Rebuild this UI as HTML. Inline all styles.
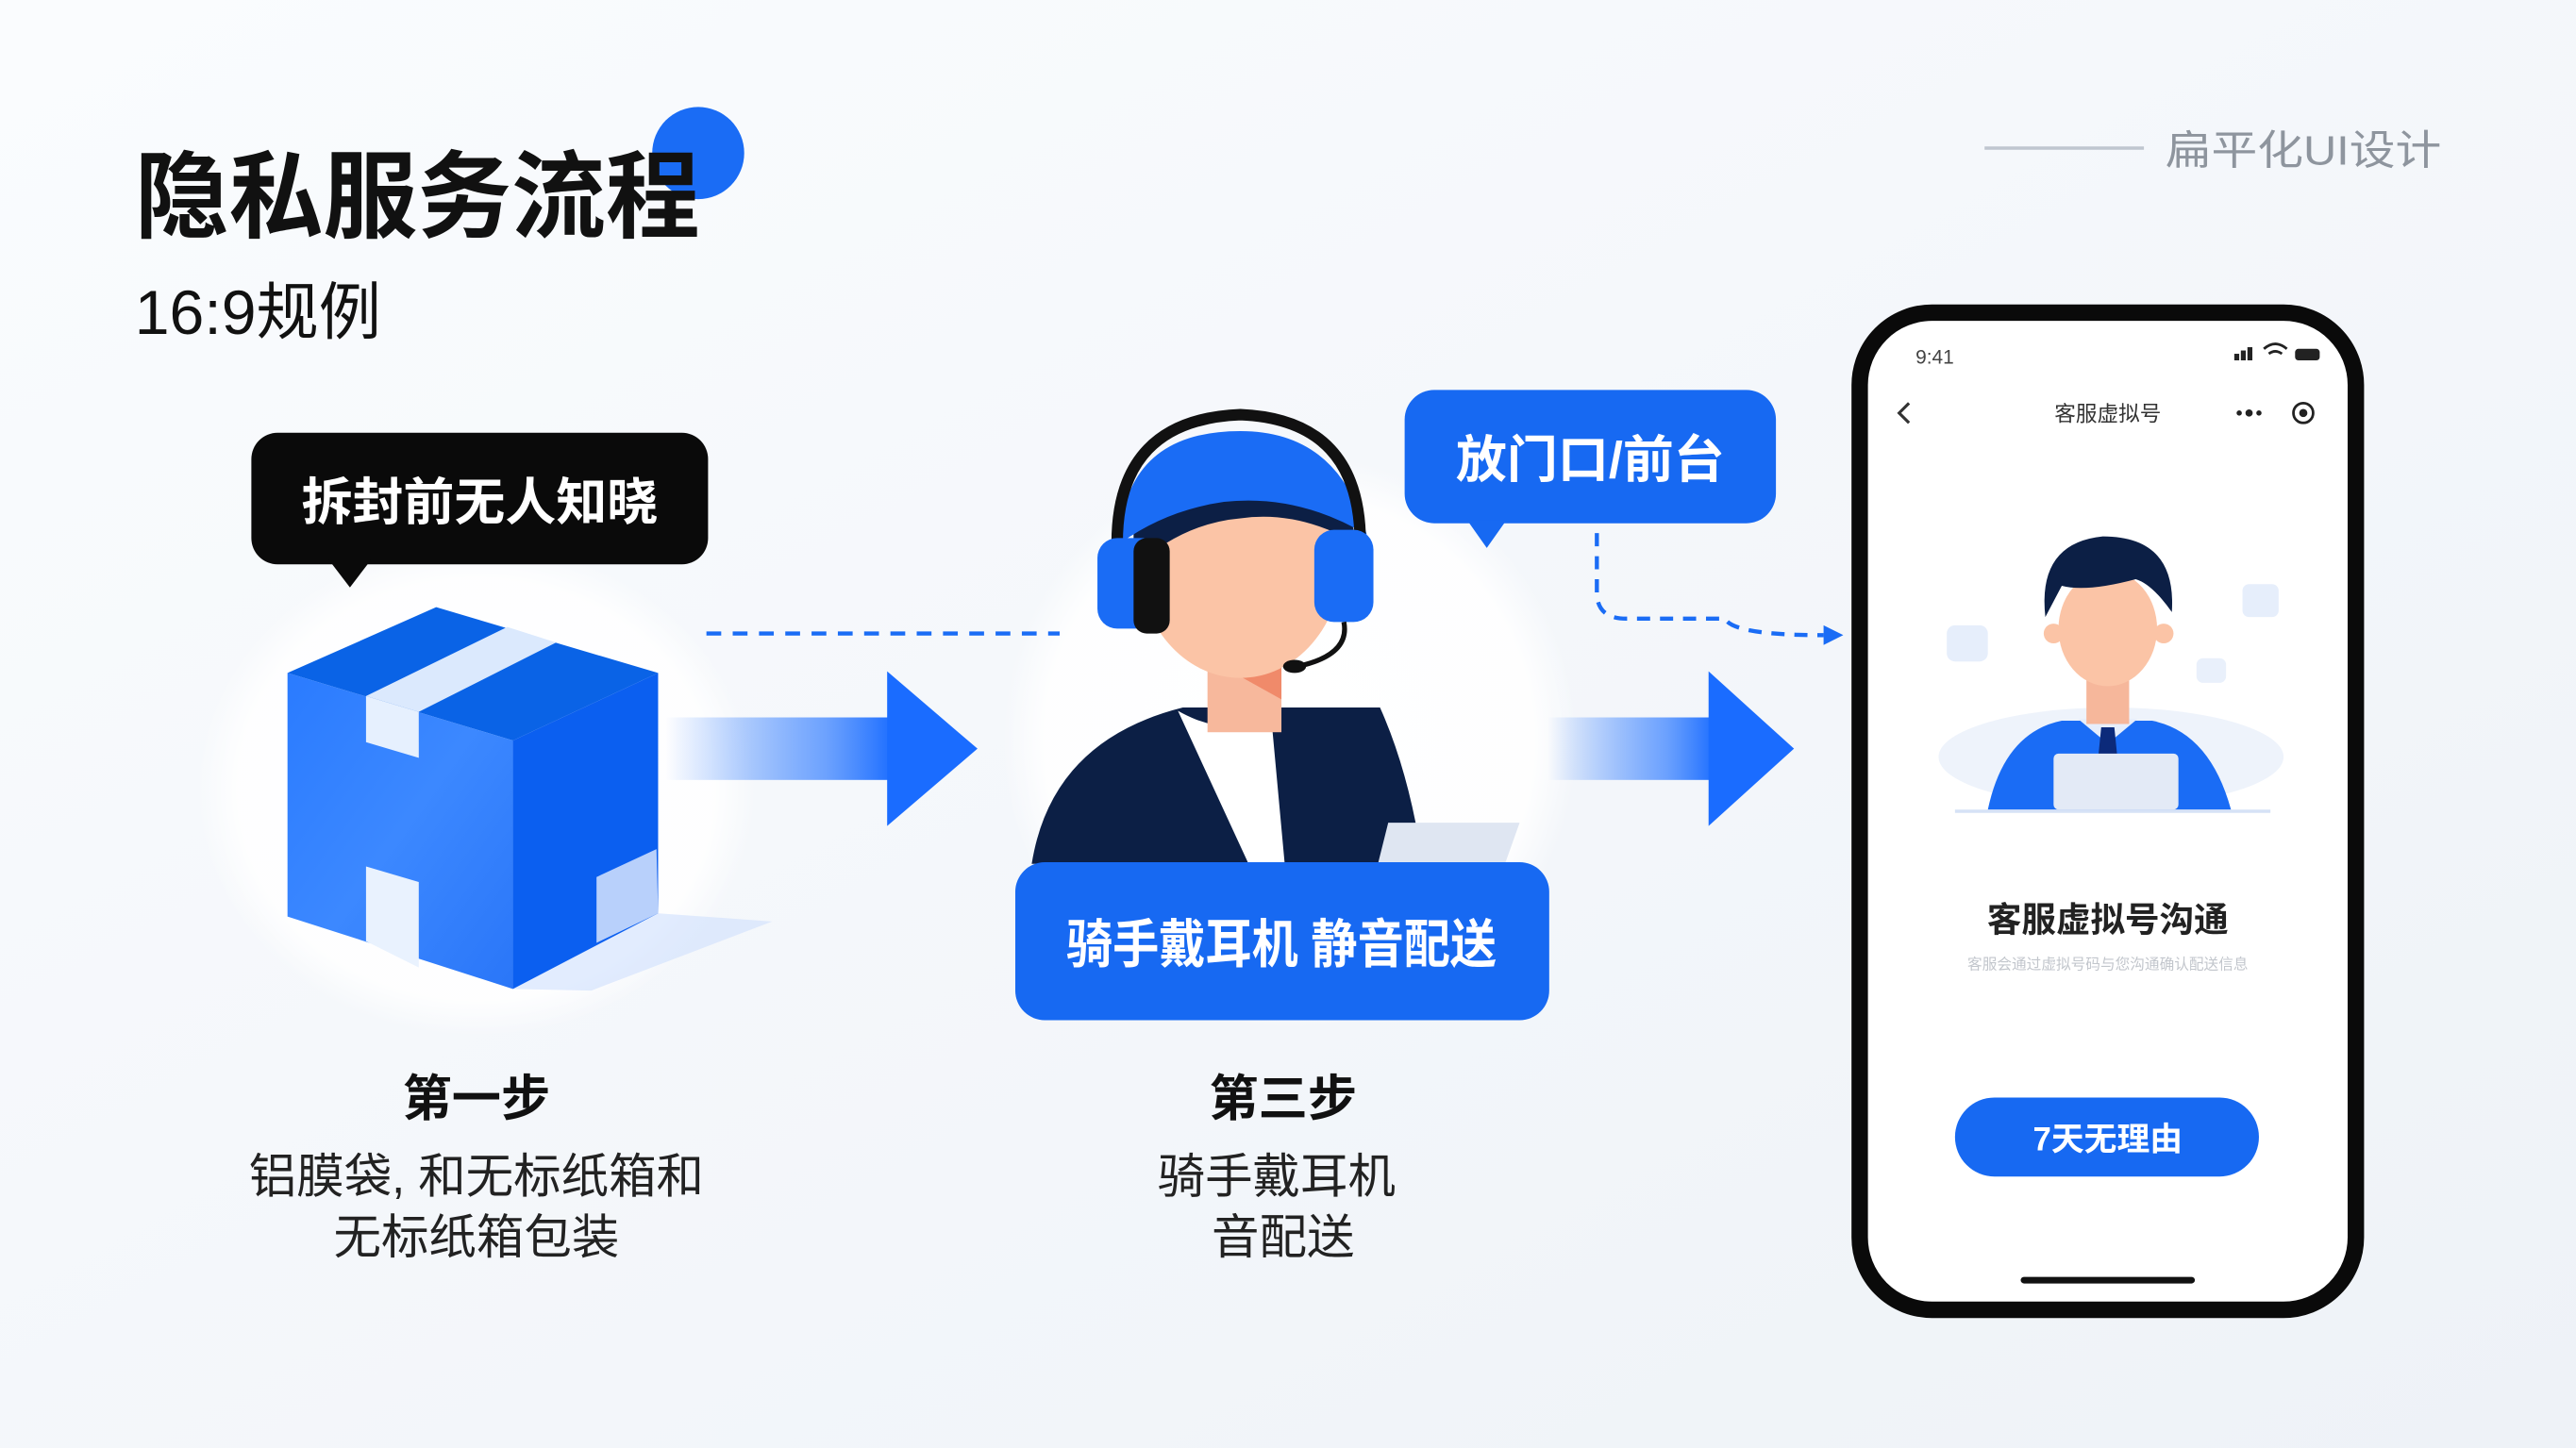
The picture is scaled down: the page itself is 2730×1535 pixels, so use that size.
<!DOCTYPE html>
<html><head><meta charset="utf-8"><style>
html,body{margin:0;padding:0;background:#f4f7fb;}
svg{display:block;}
text{font-family:"Liberation Sans","Noto Sans CJK SC",sans-serif;}
</style></head><body>
<svg width="2730" height="1535" viewBox="0 0 1568 880" preserveAspectRatio="none" xmlns="http://www.w3.org/2000/svg">
<defs>
<linearGradient id="bg" x1="0" y1="0" x2="1" y2="1"><stop offset="0" stop-color="#fafcfe"/><stop offset="0.6" stop-color="#f3f6fa"/><stop offset="1" stop-color="#eef2f7"/></linearGradient>
<linearGradient id="arr" x1="0" x2="1"><stop offset="0" stop-color="#2f7bff" stop-opacity="0"/><stop offset="0.7" stop-color="#4a8cff" stop-opacity="0.8"/><stop offset="1" stop-color="#1a6cff"/></linearGradient>
<radialGradient id="glow" cx="0.5" cy="0.5" r="0.5"><stop offset="0" stop-color="#ffffff"/><stop offset="0.85" stop-color="#ffffff" stop-opacity="0.9"/><stop offset="1" stop-color="#ffffff" stop-opacity="0"/></radialGradient>
<linearGradient id="front" x1="0" y1="0" x2="1" y2="1"><stop offset="0" stop-color="#2a7bff"/><stop offset="0.5" stop-color="#3c88ff"/><stop offset="1" stop-color="#2a76f8"/></linearGradient>
</defs>
<rect width="1568" height="880" fill="url(#bg)"/>
<ellipse cx="290" cy="480" rx="170" ry="150" fill="url(#glow)"/>
<ellipse cx="785" cy="450" rx="175" ry="175" fill="url(#glow)"/>

<!-- Title -->
<circle cx="425" cy="93" r="28" fill="#1a6cf5"/>
<text x="82" y="140" font-size="58" font-weight="bold" fill="#111" textLength="344" lengthAdjust="spacingAndGlyphs">隐私服务流程</text>
<text x="82" y="203" font-size="38" fill="#111" textLength="150" lengthAdjust="spacingAndGlyphs">16:9规例</text>
<line x1="1208" y1="90" x2="1305" y2="90" stroke="#bfc6cf" stroke-width="2"/>
<text x="1318" y="100" font-size="25" fill="#8e959e" textLength="168" lengthAdjust="spacingAndGlyphs">扁平化UI设计</text>

<!-- black bubble -->
<rect x="153" y="263" width="278" height="80" rx="16" fill="#0a0a0a"/>
<polygon points="200,340 226,340 213,357" fill="#0a0a0a"/>
<text x="292" y="316" font-size="31" font-weight="bold" fill="#fff" text-anchor="middle">拆封前无人知晓</text>

<!-- cube -->
<polygon points="312,601 400,555 470,560 360,602" fill="#cfe0fd" opacity="0.6"/>
<polygon points="175,409 265.5,369 400.6,409 312.2,450" fill="#0a63e6"/>
<polygon points="175,409 312.2,450 312.2,601 175,557" fill="url(#front)"/>
<polygon points="312.2,450 400.6,409 400.6,555 312.2,601" fill="#0b5ff0"/>
<polygon points="308.8,381 338.5,390.5 254.9,432.6 222.8,423" fill="#dbe9fd"/>
<polygon points="222.8,423 254.9,432.6 254.9,460.6 222.8,451" fill="#e6f0fe"/>
<polygon points="222.8,526.6 254.9,536 254.9,588 222.8,572" fill="#e9f2fe"/>
<polygon points="363.1,533 399.6,516 400.6,555 363.1,573" fill="#b8d0fb"/>

<!-- dashed line 1 -->
<line x1="430" y1="385" x2="645" y2="385" stroke="#1a6cf5" stroke-width="2.5" stroke-dasharray="9,7"/>

<!-- arrows -->
<rect x="405" y="436" width="140" height="38" fill="url(#arr)"/>
<polygon points="540,408 595,455 540,502" fill="#1a6cff"/>
<rect x="942" y="436" width="103" height="38" fill="url(#arr)"/>
<polygon points="1040,408 1092,455 1040,502" fill="#1a6cff"/>

<!-- rider -->
<path d="M628,525 Q640,450 720,430 L840,430 Q858,470 866,525 Z" fill="#0c1f45"/>
<path d="M717,432 Q745,448 774,438 L782,525 L760,525 Z" fill="#fff"/>
<rect x="735" y="390" width="45" height="55" fill="#f7b89c"/>
<path d="M735,400 L780,425 L780,395 Z" fill="#f08a6a"/>
<ellipse cx="755" cy="340" rx="62" ry="72" fill="#fbc4a6"/>
<path d="M690,325 Q700,270 760,268 Q820,270 825,330 Q790,310 755,315 Q720,318 690,345 Z" fill="#0c1f45"/>
<path d="M682,320 Q690,262 755,262 Q815,262 832,325 Q790,300 745,305 Q710,310 682,330 Z" fill="#1a6cf5"/>
<path d="M680,330 Q680,255 755,252 Q828,255 828,330" fill="none" stroke="#111" stroke-width="7"/>
<rect x="668" y="327" width="40" height="55" rx="12" fill="#1a6cf5"/>
<rect x="690" y="327" width="22" height="58" rx="8" fill="#111"/>
<rect x="800" y="322" width="36" height="56" rx="12" fill="#1a6cf5"/>
<path d="M818,378 Q822,398 790,405" fill="none" stroke="#111" stroke-width="3"/>
<ellipse cx="788" cy="405" rx="7" ry="4" fill="#111"/>
<polygon points="845,500 925,500 915,528 838,528" fill="#dfe6f2"/>
<rect x="618" y="524" width="325" height="96" rx="18" fill="#1769f2"/>
<text x="780" y="585" font-size="32" font-weight="bold" fill="#fff" text-anchor="middle" textLength="262" lengthAdjust="spacingAndGlyphs">骑手戴耳机 静音配送</text>

<!-- blue bubble -->
<rect x="855" y="237" width="226" height="81" rx="18" fill="#1769f2"/>
<polygon points="893,316 917,316 905,333" fill="#1769f2"/>
<text x="968" y="290" font-size="31" font-weight="bold" fill="#fff" text-anchor="middle">放门口/前台</text>
<path d="M972,324 L972,360 Q972,376 990,376 L1050,376 Q1055,386 1110,386" fill="none" stroke="#1a6cf5" stroke-width="2.5" stroke-dasharray="8,6"/>
<polygon points="1110,380 1122,386 1110,392" fill="#1a6cf5"/>

<!-- step labels -->
<text x="290" y="678" font-size="30" font-weight="bold" fill="#111" text-anchor="middle">第一步</text>
<text x="290" y="725" font-size="29" fill="#222" text-anchor="middle">铝膜袋, 和无标纸箱和</text>
<text x="290" y="762" font-size="29" fill="#222" text-anchor="middle">无标纸箱包装</text>
<text x="781" y="678" font-size="30" font-weight="bold" fill="#111" text-anchor="middle">第三步</text>
<text x="777" y="725" font-size="29" fill="#222" text-anchor="middle">骑手戴耳机</text>
<text x="781" y="762" font-size="29" fill="#222" text-anchor="middle">音配送</text>

<!-- phone -->
<rect x="1132" y="190" width="302" height="606" rx="44" fill="#fff" stroke="#0a0a0a" stroke-width="10"/>
<text x="1166" y="221" font-size="12" fill="#444">9:41</text>
<rect x="1360" y="215" width="3" height="4" fill="#222"/><rect x="1364" y="213" width="3" height="6" fill="#222"/><rect x="1368" y="211" width="3" height="8" fill="#222"/>
<path d="M1378,212 Q1385,206 1392,212 M1381,215 Q1385,212 1389,215" fill="none" stroke="#222" stroke-width="1.6"/>
<rect x="1397" y="212" width="15" height="7" rx="2" fill="#222"/>
<path d="M1162,245 L1156,251 L1162,257" fill="none" stroke="#333" stroke-width="1.8"/>
<text x="1283" y="256" font-size="13" fill="#333" text-anchor="middle">客服虚拟号</text>
<circle cx="1363" cy="251" r="1.6" fill="#222"/><circle cx="1369" cy="251" r="2.2" fill="#222"/><circle cx="1375" cy="251" r="1.6" fill="#222"/>
<circle cx="1402" cy="251" r="6" fill="none" stroke="#222" stroke-width="1.6"/><circle cx="1402" cy="251" r="2.5" fill="#222"/>
<!-- phone person -->
<ellipse cx="1285" cy="460" rx="105" ry="30" fill="#eef3fb"/>
<rect x="1185" y="380" width="25" height="22" rx="5" fill="#e6eefb"/>
<rect x="1365" y="355" width="22" height="20" rx="4" fill="#e6eefb"/>
<rect x="1337" y="400" width="18" height="15" rx="4" fill="#e9f0fb"/>
<path d="M1210,492 Q1220,445 1255,438 L1310,438 Q1345,445 1358,492 Z" fill="#1a6cf5"/>
<path d="M1265,437 L1283,452 L1301,437 Z" fill="#e6eefc"/>
<polygon points="1279,442 1287,442 1289,462 1277,462" fill="#0c2a7a"/>
<rect x="1270" y="405" width="26" height="35" fill="#f6b79b"/>
<ellipse cx="1283" cy="382" rx="30" ry="35" fill="#fbc4a6"/>
<circle cx="1250" cy="385" r="6" fill="#fbc4a6"/><circle cx="1317" cy="385" r="6" fill="#fbc4a6"/>
<path d="M1245,375 Q1240,330 1280,326 Q1325,326 1322,372 Q1310,355 1300,352 Q1270,360 1255,356 Z" fill="#0c1f45"/>
<rect x="1250" y="458" width="76" height="34" rx="3" fill="#e3eaf6"/>
<line x1="1190" y1="493" x2="1382" y2="493" stroke="#d6e2f6" stroke-width="2"/>
<text x="1283" y="566" font-size="21" font-weight="bold" fill="#222" text-anchor="middle">客服虚拟号沟通</text>
<text x="1283" y="589" font-size="9" fill="#c2c6cc" text-anchor="middle">客服会通过虚拟号码与您沟通确认配送信息</text>
<rect x="1190" y="667" width="185" height="48" rx="24" fill="#1769f2"/>
<text x="1283" y="699" font-size="20" font-weight="bold" fill="#fff" text-anchor="middle">7天无理由</text>
<rect x="1230" y="776" width="106" height="4" rx="2" fill="#111"/>
</svg>
</body></html>
